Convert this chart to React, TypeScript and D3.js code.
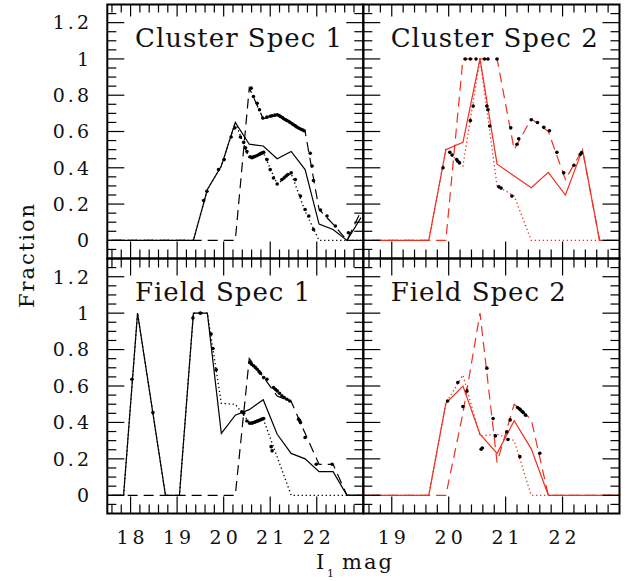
import React from "react";
import * as d3 from "d3";

// ---------- data ----------
const bins = [17.25, 17.55, 17.85, 18.15, 18.45, 18.75, 19.05, 19.35, 19.65, 19.95, 20.25, 20.55, 20.85, 21.15, 21.45, 21.75, 22.05, 22.35, 22.65, 22.95, 23.25];

const clusterSpec1Solid = [0, 0, 0, 0, 0, 0, 0, 0, 0.28, 0.41, 0.65, 0.53, 0.52, 0.45, 0.49, 0.39, 0.09, 0.06, 0, 0.125, null];
const clusterSpec1Dashed = [0, 0, 0, 0, 0, 0, 0, 0, 0, 0, 0, 0.84, 0.67, 0.69, 0.65, 0.6, 0.17, 0.09, 0, 0.16, null];
const clusterSpec1Dotted = [0, 0, 0, 0, 0, 0, 0, 0, 0.28, 0.41, 0.65, 0.45, 0.485, 0.31, 0.37, 0.16, 0, 0, 0, 0, null];
const clusterSpec1Dots = [
  [19.57, 0.22], [19.64, 0.27], [19.89, 0.39], [20.01, 0.445], [20.16, 0.57], [20.24, 0.62],
  [20.36, 0.57], [20.43, 0.54], [20.47, 0.51], [20.5, 0.49], [20.57, 0.46], [20.61, 0.455], [20.64, 0.46], [20.68, 0.463],
  [20.72, 0.468], [20.76, 0.473], [20.79, 0.478], [20.83, 0.482], [20.86, 0.485], [20.93, 0.445], [21.0, 0.39],
  [21.07, 0.344], [21.15, 0.311], [21.25, 0.335], [21.3, 0.345], [21.34, 0.355], [21.38, 0.363], [21.45, 0.372],
  [21.54, 0.335], [21.65, 0.244], [21.75, 0.17], [21.83, 0.134], [21.93, 0.06],
  [20.59, 0.839], [20.64, 0.793], [20.72, 0.756], [20.77, 0.72], [20.84, 0.674], [20.93, 0.679], [21.0, 0.684],
  [21.04, 0.687], [21.1, 0.69], [21.15, 0.692], [21.19, 0.688], [21.22, 0.683], [21.26, 0.677], [21.29, 0.67],
  [21.33, 0.665], [21.36, 0.661], [21.4, 0.655], [21.43, 0.65], [21.47, 0.643], [21.5, 0.637], [21.54, 0.631],
  [21.57, 0.625], [21.61, 0.619], [21.65, 0.614], [21.69, 0.609], [21.73, 0.604], [21.86, 0.48], [21.9, 0.41],
  [21.93, 0.33], [22.08, 0.167], [22.22, 0.134], [22.4, 0.079], [22.68, 0.042],
];

const clusterSpec2Solid = [0, 0, 0, 0, 0, 0, 0, 0, 0, 0.5, 0.54, 1.0, 0.42, 0.355, 0.29, 0.375, 0.25, 0.5, 0, 0, 0];
const clusterSpec2Dashed = [0, 0, 0, 0, 0, 0, 0, 0, 0, 0, 1.0, 1.0, 1.0, 0.5, 0.67, 0.6, 0.335, 0.5, 0, 0, 0];
const clusterSpec2Dotted = [0, 0, 0, 0, 0, 0, 0, 0, 0, 0.5, 0.41, 1.0, 0.3, 0.245, 0, 0, 0, 0, 0, 0, 0];
const clusterSpec2Dots = [
  [19.9, 0.4], [20.02, 0.485], [20.06, 0.47], [20.14, 0.445], [20.16, 0.436], [20.19, 0.427],
  [20.29, 1.0], [20.38, 1.0], [20.48, 1.0], [20.63, 1.0], [20.69, 1.0], [20.85, 1.0],
  [20.38, 0.66], [20.43, 0.74], [20.67, 0.74], [20.69, 0.72], [20.72, 0.63],
  [20.88, 0.295], [20.92, 0.288], [21.11, 0.244], [21.09, 0.62], [21.2, 0.53], [21.23, 0.56],
  [21.45, 0.665], [21.56, 0.65], [21.67, 0.623], [21.77, 0.604], [21.9, 0.485], [22.02, 0.372],
  [22.2, 0.414], [22.31, 0.473], [22.33, 0.482],
];

const fieldSpec1Solid = [0, 0, 0, 1.0, 0.5, 0, 0, 1.0, 1.0, 0.34, 0.44, 0.47, 0.525, 0.335, 0.23, 0.2, 0.13, 0.13, 0, 0, 0];
const fieldSpec1Dashed = [0, 0, 0, 0, 0, 0, 0, 0, 0, 0, 0, 0.75, 0.65, 0.545, 0.515, 0.34, 0.17, 0.17, 0, 0, 0];
const fieldSpec1Dotted = [0, 0, 0, 1.0, 0.5, 0, 0, 1.0, 1.0, 0.505, 0.5, 0.4, 0.42, 0.21, 0, 0, 0, 0, 0, 0, 0];
const fieldSpec1Dots = [
  [18.03, 0.637], [18.48, 0.454], [19.34, 0.973], [19.5, 1.0], [19.73, 0.885], [19.77, 0.806], [19.84, 0.689],
  [20.39, 0.458], [20.43, 0.451], [20.5, 0.408], [20.56, 0.396], [20.61, 0.396], [20.65, 0.4], [20.68, 0.403],
  [20.72, 0.407], [20.75, 0.41], [20.79, 0.414], [20.82, 0.418], [20.86, 0.421], [21.02, 0.267], [21.04, 0.244],
  [20.56, 0.729], [20.6, 0.72], [20.64, 0.711], [20.68, 0.702], [20.72, 0.692], [20.76, 0.68], [20.79, 0.67],
  [20.86, 0.646], [20.93, 0.637], [21.07, 0.592], [21.11, 0.582], [21.15, 0.573], [21.2, 0.56], [21.25, 0.546],
  [21.3, 0.536], [21.36, 0.527], [21.42, 0.518], [21.61, 0.418], [21.63, 0.41], [21.65, 0.399], [21.75, 0.317],
  [21.99, 0.17], [22.33, 0.17],
];

const fieldSpec2Solid = [0, 0, 0, 0, 0, 0, 0, 0, 0, 0.505, 0.6, 0.335, 0.23, 0.41, 0.255, 0, 0, 0, 0, 0, 0];
const fieldSpec2Dashed = [0, 0, 0, 0, 0, 0, 0, 0, 0, 0, 0.45, 1.0, 0.18, 0.5, 0.415, 0, 0, 0, 0, 0, 0];
const fieldSpec2Dotted = [0, 0, 0, 0, 0, 0, 0, 0, 0, 0.505, 0.66, 0.325, 0.335, 0.3, 0, 0, 0, 0, 0, 0, 0];
const fieldSpec2Dots = [
  [19.98, 0.518], [20.16, 0.619], [20.25, 0.487], [20.32, 0.573], [20.67, 0.698], [20.57, 0.253], [20.59, 0.26],
  [20.78, 0.421], [20.82, 0.326], [21.02, 0.348], [21.04, 0.306], [21.08, 0.414], [21.21, 0.482], [21.24, 0.475],
  [21.26, 0.469], [21.29, 0.46], [21.31, 0.454], [21.35, 0.44], [21.25, 0.212], [21.6, 0.231],
];

const panelTitles = ["Cluster Spec 1", "Cluster Spec 2", "Field Spec 1", "Field Spec 2"];
const xMajorLeft = [18, 19, 20, 21, 22];
const xMajorRight = [19, 20, 21, 22];
const xLabelsLeft = ["18", "19", "20", "21", "22"];
const xLabelsRight = ["19", "20", "21", "22"];
const yMajor = [0, 0.2, 0.4, 0.6, 0.8, 1.0, 1.2];
const yLabels = ["0", "0.2", "0.4", "0.6", "0.8", "1", "1.2"];
const yAxisTitle = "Fraction";
const xAxisTitleMain = "I";
const xAxisTitleSub = "1";
const xAxisTitleRest = "mag";

// ---------- layout ----------
const W = 637;
const H = 581;
const L = 107.3, M = 363.3, R = 619.5, T = 4.5, MY = 258.5, B = 513.5;
const BLACK = "#000";
const RED = "#f0301e";
const FONT = "'DejaVu Serif', serif";

const xLeft = d3.scaleLinear().domain([17.5, 23]).range([L, M]);
const xRight = d3.scaleLinear().domain([18.5, 23]).range([M, R]);
const yTop = d3.scaleLinear().domain([-0.1, 1.3]).range([MY, T]);
const yBot = d3.scaleLinear().domain([-0.1, 1.3]).range([B, MY]);

type Panel = {
  id: string; title: string; color: string;
  solid: (number | null)[]; dashed: (number | null)[]; dotted: (number | null)[];
  dots: number[][];
  x: d3.ScaleLinear<number, number>; y: d3.ScaleLinear<number, number>;
  majors: number[]; left: boolean; top: boolean;
};

const panels: Panel[] = [
  { id: "c1", title: panelTitles[0], color: BLACK, solid: clusterSpec1Solid, dashed: clusterSpec1Dashed, dotted: clusterSpec1Dotted, dots: clusterSpec1Dots, x: xLeft, y: yTop, majors: xMajorLeft, left: true, top: true },
  { id: "c2", title: panelTitles[1], color: RED, solid: clusterSpec2Solid, dashed: clusterSpec2Dashed, dotted: clusterSpec2Dotted, dots: clusterSpec2Dots, x: xRight, y: yTop, majors: xMajorRight, left: false, top: true },
  { id: "f1", title: panelTitles[2], color: BLACK, solid: fieldSpec1Solid, dashed: fieldSpec1Dashed, dotted: fieldSpec1Dotted, dots: fieldSpec1Dots, x: xLeft, y: yBot, majors: xMajorLeft, left: true, top: false },
  { id: "f2", title: panelTitles[3], color: RED, solid: fieldSpec2Solid, dashed: fieldSpec2Dashed, dotted: fieldSpec2Dotted, dots: fieldSpec2Dots, x: xRight, y: yBot, majors: xMajorRight, left: false, top: false },
];

function PanelView({ p }: { p: Panel }) {
  const [x0, x1] = p.x.range();
  const [y1, y0] = p.y.range();
  const [d0, d1] = p.x.domain();
  const line = d3.line<number | null>()
    .defined((v) => v != null)
    .x((_, i) => p.x(bins[i]))
    .y((v) => p.y(v as number));
  const xMinor = d3.range(Math.ceil(d0 * 5 + 1e-6), Math.floor(d1 * 5 - 1e-6) + 1)
    .map((k) => k / 5).filter((v) => Math.abs(v - Math.round(v)) > 1e-6 && v > d0 && v < d1);
  const yMinor = d3.range(-1, 26).map((k) => k * 0.05).filter((v) => Math.abs(v * 5 - Math.round(v * 5)) > 1e-6);
  const majX = p.majors;
  const topMaj = p.top ? 12 : 17;
  const topMin = p.top ? 8 : 9;
  const clipId = `clip-${p.id}`;
  const titleX = p.left ? 135 : 390.7;
  const titleY = y0 + 42;
  return (
    <g>
      <defs>
        <clipPath id={clipId}>
          <rect x={x0} y={y0} width={x1 - x0} height={y1 - y0} />
        </clipPath>
      </defs>
      <g clipPath={`url(#${clipId})`} fill="none">
        <path d={line(p.dotted) || ""} stroke={p.color} strokeWidth={1.3} strokeDasharray="1.3,2.7" />
        <path d={line(p.dashed) || ""} stroke={p.color} strokeWidth={1.2} strokeDasharray="10,6" />
        <path d={line(p.solid) || ""} stroke={p.color} strokeWidth={1.2} />
        {p.dots.map((d, i) => (
          <circle key={i} cx={p.x(d[0])} cy={p.y(d[1])} r={1.8} fill="#000" stroke="none" />
        ))}
      </g>
      <g stroke="#000" strokeWidth={1.2}>
        {majX.map((v) => (
          <g key={`mx${v}`}>
            <line x1={p.x(v)} x2={p.x(v)} y1={y1} y2={y1 - 17} />
            <line x1={p.x(v)} x2={p.x(v)} y1={y0} y2={y0 + topMaj} />
          </g>
        ))}
        {xMinor.map((v) => (
          <g key={`nx${v}`}>
            <line x1={p.x(v)} x2={p.x(v)} y1={y1} y2={y1 - 9} />
            <line x1={p.x(v)} x2={p.x(v)} y1={y0} y2={y0 + topMin} />
          </g>
        ))}
        {yMajor.map((v) => (
          <g key={`my${v}`}>
            <line x1={x0} x2={x0 + 17} y1={p.y(v)} y2={p.y(v)} />
            <line x1={x1} x2={x1 - 17} y1={p.y(v)} y2={p.y(v)} />
          </g>
        ))}
        {yMinor.map((v) => (
          <g key={`ny${v}`}>
            <line x1={x0} x2={x0 + 9} y1={p.y(v)} y2={p.y(v)} />
            <line x1={x1} x2={x1 - 9} y1={p.y(v)} y2={p.y(v)} />
          </g>
        ))}
      </g>
      <rect x={x0} y={y0} width={x1 - x0} height={y1 - y0} fill="none" stroke="#000" strokeWidth={2} />
      <text x={titleX} y={titleY} fontFamily={FONT} fontSize={26} letterSpacing={1} fill="#111">{p.title}</text>
      {!p.top && p.majors.map((v, i) => (
        <text key={`xl${v}`} x={p.x(v) + 2} y={544} textAnchor="middle" fontFamily={FONT} fontSize={19} letterSpacing={4} fill="#111">
          {(p.left ? xLabelsLeft : xLabelsRight)[i]}
        </text>
      ))}
      {p.left && yMajor.map((v, i) => (
        <text key={`yl${v}`} x={89 + 3} y={p.y(v)} dy="0.36em" textAnchor="end" fontFamily={FONT} fontSize={19} letterSpacing={3} fill="#111">
          {yLabels[i]}
        </text>
      ))}
    </g>
  );
}

export default function App() {
  return (
    <svg width={W} height={H} viewBox={`0 0 ${W} ${H}`} style={{ position: "absolute", left: 0, top: 0, background: "#fff" }}>
      <rect x={0} y={0} width={W} height={H} fill="#fff" />
      {panels.map((p) => <PanelView key={p.id} p={p} />)}
      <text transform={`translate(34,255) rotate(-90)`} textAnchor="middle" fontFamily={FONT} fontSize={21} letterSpacing={2} fill="#111">
        {yAxisTitle}
      </text>
      <text x={316} y={569} fontFamily={FONT} fontSize={21} fill="#111">{xAxisTitleMain}</text>
      <text x={327} y={577} fontFamily={FONT} fontSize={11} fill="#111">{xAxisTitleSub}</text>
      <text x={342} y={569} fontFamily={FONT} fontSize={21} letterSpacing={2} fill="#111">{xAxisTitleRest}</text>
    </svg>
  );
}
